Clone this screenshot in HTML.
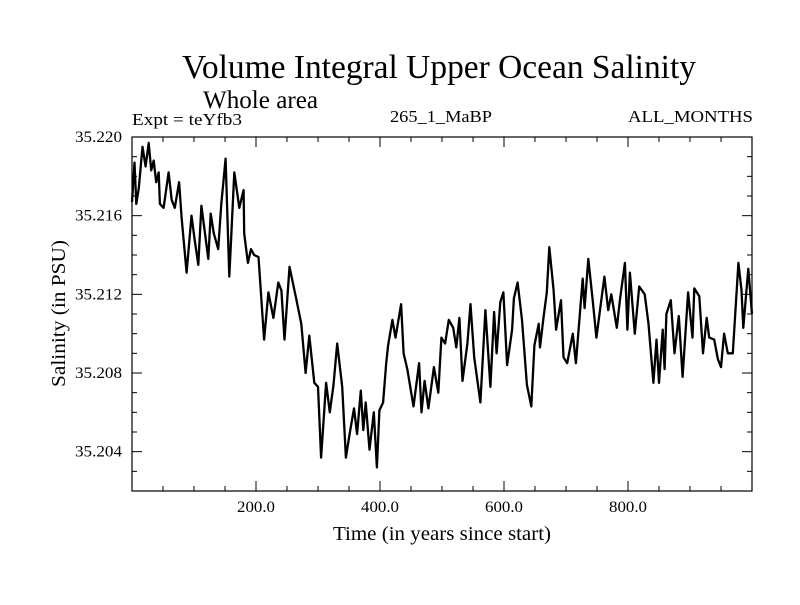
<!DOCTYPE html>
<html><head><meta charset="utf-8"><style>
body{margin:0;background:#fff}
svg text{font-family:"Liberation Serif",serif;fill:#000}
</style></head><body>
<svg id="chart" width="800" height="600" xmlns="http://www.w3.org/2000/svg">
<rect width="800" height="600" fill="#fff"/>
<text x="182" y="78" font-size="34" textLength="514" lengthAdjust="spacingAndGlyphs">Volume Integral Upper Ocean Salinity</text>
<text x="203" y="108" font-size="25" textLength="115" lengthAdjust="spacingAndGlyphs">Whole area</text>
<text x="132" y="125" font-size="17" textLength="110" lengthAdjust="spacingAndGlyphs">Expt = teYfb3</text>
<text x="390" y="122" font-size="17" textLength="102" lengthAdjust="spacingAndGlyphs">265_1_MaBP</text>
<text x="628" y="122" font-size="17" textLength="125" lengthAdjust="spacingAndGlyphs">ALL_MONTHS</text>
<text x="333" y="540" font-size="20" textLength="218" lengthAdjust="spacingAndGlyphs">Time (in years since start)</text>
<text transform="translate(65,387) rotate(-90)" font-size="20" textLength="147" lengthAdjust="spacingAndGlyphs">Salinity (in PSU)</text>
<g id="axes"></g>
<path id="series" fill="none" stroke="#000" stroke-width="2.3" stroke-linejoin="round"/>
<rect x="132" y="137" width="620" height="354" fill="none" stroke="#000" stroke-width="1.2"/>
</svg>
<script>
const years=[0,4,7,11,17,22,27,31,35,39,43,45,51,59,64,69,76,80,88,96,101,107,112,123,127,132,139,144,151,157,165,173,180,181,187,192,197,204,213,220,228,236,241,246,254,264,273,280,286,294,300,305,313,319,325,331,339,345,351,358,363,369,373,377,383,390,395,399,405,410,413,420,425,434,438,444,454,463,467,472,478,487,494,499,505,511,518,523,528,533,541,546,552,562,570,578,584,588,594,599,605,613,616,622,629,637,644,649,656,658,664,669,673,680,684,692,696,702,711,716,727,730,736,743,749,754,762,768,773,782,787,795,799,803,811,818,827,833,841,846,850,856,859,862,869,875,882,888,897,904,907,915,921,927,931,939,945,950,955,961,969,978,983,986,994,1000];
const salinity=[35.2167,35.2187,35.2166,35.2174,35.2195,35.2185,35.2197,35.2183,35.2188,35.2177,35.2182,35.2166,35.2164,35.2182,35.2168,35.2164,35.2177,35.2159,35.2131,35.2160,35.2148,35.2135,35.2165,35.2138,35.2161,35.2151,35.2143,35.2166,35.2189,35.2129,35.2182,35.2164,35.2173,35.2151,35.2136,35.2143,35.2140,35.2139,35.2097,35.2121,35.2108,35.2126,35.2122,35.2097,35.2134,35.2119,35.2105,35.2080,35.2099,35.2075,35.2073,35.2037,35.2075,35.2060,35.2074,35.2095,35.2073,35.2037,35.2049,35.2062,35.2049,35.2071,35.2051,35.2065,35.2041,35.2060,35.2032,35.2061,35.2065,35.2085,35.2094,35.2107,35.2098,35.2115,35.2090,35.2082,35.2063,35.2085,35.2060,35.2076,35.2062,35.2083,35.2070,35.2098,35.2095,35.2107,35.2103,35.2093,35.2108,35.2076,35.2095,35.2115,35.2088,35.2065,35.2112,35.2073,35.2111,35.2090,35.2116,35.2121,35.2084,35.2102,35.2118,35.2126,35.2107,35.2074,35.2063,35.2094,35.2105,35.2093,35.2109,35.2121,35.2144,35.2122,35.2102,35.2117,35.2088,35.2085,35.2100,35.2085,35.2128,35.2113,35.2138,35.2117,35.2098,35.2110,35.2129,35.2112,35.2120,35.2103,35.2117,35.2136,35.2102,35.2131,35.2100,35.2124,35.2120,35.2105,35.2075,35.2097,35.2075,35.2102,35.2082,35.2110,35.2117,35.2090,35.2109,35.2078,35.2121,35.2098,35.2123,35.2119,35.2090,35.2108,35.2098,35.2097,35.2087,35.2083,35.2100,35.2090,35.2090,35.2136,35.2122,35.2103,35.2133,35.2110];
const xTickValues=[200,400,600,800];
const xTickLabels=["200.0","400.0","600.0","800.0"];
const yTickValues=[35.204,35.208,35.212,35.216,35.220];
const yTickLabels=["35.204","35.208","35.212","35.216","35.220"];

const X0=132,X1=752,Y0=491,Y1=137,XMIN=0,XMAX=1000,YMIN=35.202,YMAX=35.220;
function xs(v){return X0+(v-XMIN)/(XMAX-XMIN)*(X1-X0);}
function ys(v){return Y0-(v-YMIN)/(YMAX-YMIN)*(Y0-Y1);}
const NS="http://www.w3.org/2000/svg";
const axes=document.getElementById('axes');
function line(x1,y1,x2,y2){const l=document.createElementNS(NS,'line');l.setAttribute('x1',x1);l.setAttribute('y1',y1);l.setAttribute('x2',x2);l.setAttribute('y2',y2);l.setAttribute('stroke','#000');l.setAttribute('stroke-width','1');axes.appendChild(l);return l;}
for(let v=50;v<XMAX;v+=50){
  const major=v%200===0,len=major?10:5,x=xs(v);
  const a=line(x,Y0,x,Y0-len);
  
  
  const b=line(x,Y1,x,Y1+len);
  
  
}
for(let i=1;i<18;i++){
  const v=YMIN+i*0.001,major=(i%4===2),len=major?10:5,y=ys(v);
  const a=line(X0,y,X0+len,y);
  
  
  const b=line(X1,y,X1-len,y);
  
  
}
xTickValues.forEach((v,i)=>{const t=document.createElementNS(NS,'text');t.setAttribute('x',xs(v)-19);t.setAttribute('y',512);t.setAttribute('font-size','16');t.setAttribute('textLength','38');t.setAttribute('lengthAdjust','spacingAndGlyphs');t.textContent=xTickLabels[i];


axes.appendChild(t);});
yTickValues.forEach((v,i)=>{const t=document.createElementNS(NS,'text');t.setAttribute('x',75);t.setAttribute('y',ys(v)+5);t.setAttribute('font-size','16');t.setAttribute('textLength','47');t.setAttribute('lengthAdjust','spacingAndGlyphs');t.textContent=yTickLabels[i];


axes.appendChild(t);});
document.getElementById('series').setAttribute('d',years.map((y,i)=>(i?'L':'M')+xs(y).toFixed(1)+' '+ys(salinity[i]).toFixed(1)).join(' '));
</script>
</body></html>
